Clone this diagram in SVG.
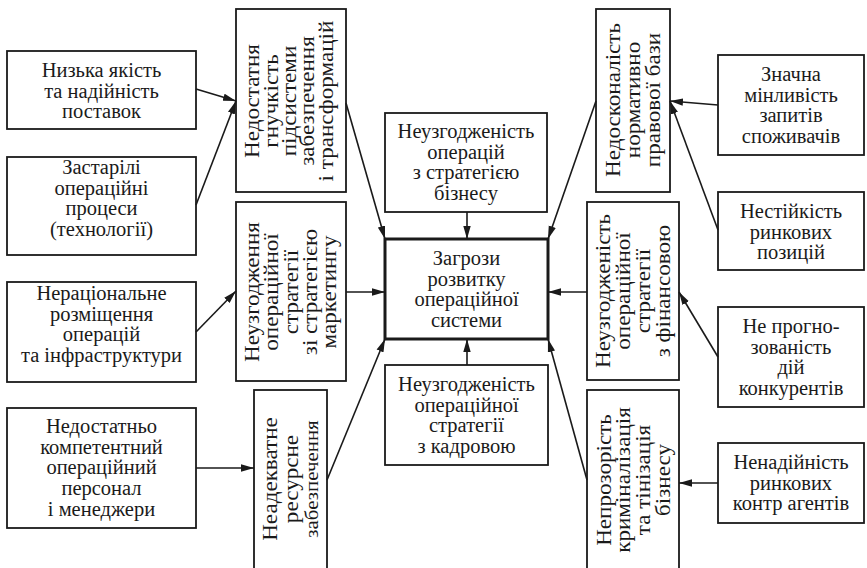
<svg xmlns="http://www.w3.org/2000/svg" width="867" height="568" viewBox="0 0 867 568">
<style>
.bx{fill:#fff;stroke:#1a1a1a;stroke-width:1.8}
.mb{fill:#fff;stroke:#1a1a1a;stroke-width:3}
text{font-family:"Liberation Serif","Times New Roman",serif;font-size:20.5px;fill:#1a1a1a;text-anchor:middle}
.vt{font-size:21px}
.cn line{stroke:#1a1a1a;stroke-width:1.6;marker-end:url(#ah)}
</style>
<defs>
<marker id="ah" viewBox="0 0 13 8" refX="13" refY="4" markerWidth="13" markerHeight="8" orient="auto" markerUnits="userSpaceOnUse">
<path d="M0,0.3 L13,4 L0,7.7 z" fill="#1a1a1a"/>
</marker>
</defs>
<rect width="867" height="568" fill="#fff"/>

<g id="n1"><rect class="bx" x="7" y="51" width="189" height="78"/>
<text><tspan x="101.5" y="77">Низька якість</tspan><tspan x="101.5" y="97.7">та надійність</tspan><tspan x="101.5" y="118.4">поставок</tspan></text></g>
<g id="n2"><rect class="bx" x="7" y="157" width="189" height="98"/>
<text><tspan x="101.5" y="174">Застарілі</tspan><tspan x="101.5" y="194.7">операційні</tspan><tspan x="101.5" y="215.4">процеси</tspan><tspan x="101.5" y="236.1">(технології)</tspan></text></g>
<g id="n3"><rect class="bx" x="7" y="282" width="189" height="100"/>
<text><tspan x="101.5" y="300">Нераціональне</tspan><tspan x="101.5" y="320.7">розміщення</tspan><tspan x="101.5" y="341.4">операцій</tspan><tspan x="101.5" y="362.1">та інфраструктури</tspan></text></g>
<g id="n4"><rect class="bx" x="7" y="408" width="189" height="120"/>
<text><tspan x="101.5" y="433">Недостатньо</tspan><tspan x="101.5" y="453.7">компетентний</tspan><tspan x="101.5" y="474.4">операційний</tspan><tspan x="101.5" y="495.1">персонал</tspan><tspan x="101.5" y="515.8">і менеджери</tspan></text></g>

<g id="v1"><rect class="bx" x="236" y="9" width="110" height="183"/>
<text class="vt" transform="translate(289,101) rotate(-90) scale(1.1,1)"><tspan x="0" y="-29.6">Недостатня</tspan><tspan x="0" y="-11.3">гнучкість</tspan><tspan x="0" y="7">підсистеми</tspan><tspan x="0" y="25.3">забезпечення</tspan><tspan x="0" y="43.6">і трансформацій</tspan></text></g>
<g id="v2"><rect class="bx" x="236" y="202" width="110" height="179"/>
<text class="vt" transform="translate(290.5,292) rotate(-90) scale(1.1,1)"><tspan x="0" y="-32">Неузгодження</tspan><tspan x="0" y="-12.5">операційної</tspan><tspan x="0" y="7">стратегії</tspan><tspan x="0" y="26.5">зі стратегією</tspan><tspan x="0" y="46">маркетингу</tspan></text></g>
<g id="v3"><rect class="bx" x="254" y="390" width="73" height="200"/>
<text class="vt" transform="translate(291,479) rotate(-90) scale(1.1,1)"><tspan x="0" y="-14.5">Неадекватне</tspan><tspan x="0" y="7">ресурсне</tspan><tspan x="0" y="27" style="font-size:19px">забезпечення</tspan></text></g>
<g id="v4"><rect class="bx" x="596" y="9" width="74" height="183"/>
<text class="vt" transform="translate(633,100) rotate(-90) scale(1.1,1)"><tspan x="0" y="-13">Недосконалість</tspan><tspan x="0" y="7">нормативно</tspan><tspan x="0" y="27">правової бази</tspan></text></g>
<g id="v5"><rect class="bx" x="587" y="202" width="92" height="178"/>
<text class="vt" transform="translate(633,291) rotate(-90) scale(1.1,1)"><tspan x="0" y="-23">Неузгодженість</tspan><tspan x="0" y="-3">операційної</tspan><tspan x="0" y="17">стратегії</tspan><tspan x="0" y="37">з фінансовою</tspan></text></g>
<g id="v6"><rect class="bx" x="587" y="390" width="92" height="200"/>
<text class="vt" transform="translate(633,480) rotate(-90) scale(1.1,1)"><tspan x="0" y="-22.5">Непрозорість</tspan><tspan x="0" y="-2.8">криміналізація</tspan><tspan x="0" y="16.9">та тінізація</tspan><tspan x="0" y="36.6">бізнесу</tspan></text></g>

<g id="c1"><rect class="bx" x="385" y="113" width="162" height="99"/>
<text><tspan x="466" y="138">Неузгодженість</tspan><tspan x="466" y="158.5">операцій</tspan><tspan x="466" y="179">з стратегією</tspan><tspan x="466" y="199.5">бізнесу</tspan></text></g>
<g id="main"><rect class="mb" x="385" y="239" width="163" height="100"/>
<text><tspan x="466.5" y="265">Загрози</tspan><tspan x="466.5" y="285.5">розвитку</tspan><tspan x="466.5" y="306">операційної</tspan><tspan x="466.5" y="326.5">системи</tspan></text></g>
<g id="c2"><rect class="bx" x="385" y="365" width="163" height="100"/>
<text><tspan x="466.5" y="391">Неузгодженість</tspan><tspan x="466.5" y="411.5">операційної</tspan><tspan x="466.5" y="432">стратегії</tspan><tspan x="466.5" y="452.5">з кадровою</tspan></text></g>

<g id="r1"><rect class="bx" x="718" y="55" width="146" height="100"/>
<text><tspan x="791" y="81">Значна</tspan><tspan x="791" y="101.5">мінливість</tspan><tspan x="791" y="122">запитів</tspan><tspan x="791" y="142.5">споживачів</tspan></text></g>
<g id="r2"><rect class="bx" x="718" y="192" width="146" height="78"/>
<text><tspan x="791" y="218">Нестійкість</tspan><tspan x="791" y="238.5">ринкових</tspan><tspan x="791" y="259">позицій</tspan></text></g>
<g id="r3"><rect class="bx" x="718" y="307" width="146" height="100"/>
<text><tspan x="791" y="333">Не прогно-</tspan><tspan x="791" y="353.5">зованість</tspan><tspan x="791" y="374">дій</tspan><tspan x="791" y="394.5">конкурентів</tspan></text></g>
<g id="r4"><rect class="bx" x="718" y="443" width="146" height="80"/>
<text><tspan x="791" y="469">Ненадійність</tspan><tspan x="791" y="489.5">ринкових</tspan><tspan x="791" y="510">контр агентів</tspan></text></g>

<g id="connectors" class="cn">
<line x1="196" y1="89" x2="236" y2="101"/>
<line x1="196" y1="205" x2="236" y2="101"/>
<line x1="346" y1="103" x2="385" y2="239"/>
<line x1="196" y1="332" x2="236" y2="291"/>
<line x1="346" y1="292" x2="385" y2="292"/>
<line x1="196" y1="468" x2="254" y2="468"/>
<line x1="327" y1="480" x2="385" y2="339"/>
<line x1="467" y1="212" x2="467" y2="239"/>
<line x1="467" y1="365" x2="467" y2="339"/>
<line x1="596" y1="101" x2="548" y2="239"/>
<line x1="718" y1="105" x2="670" y2="101"/>
<line x1="718" y1="230" x2="670" y2="101"/>
<line x1="587" y1="292" x2="548" y2="292"/>
<line x1="718" y1="357" x2="679" y2="292"/>
<line x1="587" y1="480" x2="548" y2="339"/>
<line x1="718" y1="483" x2="679" y2="483"/>
</g>
</svg>
